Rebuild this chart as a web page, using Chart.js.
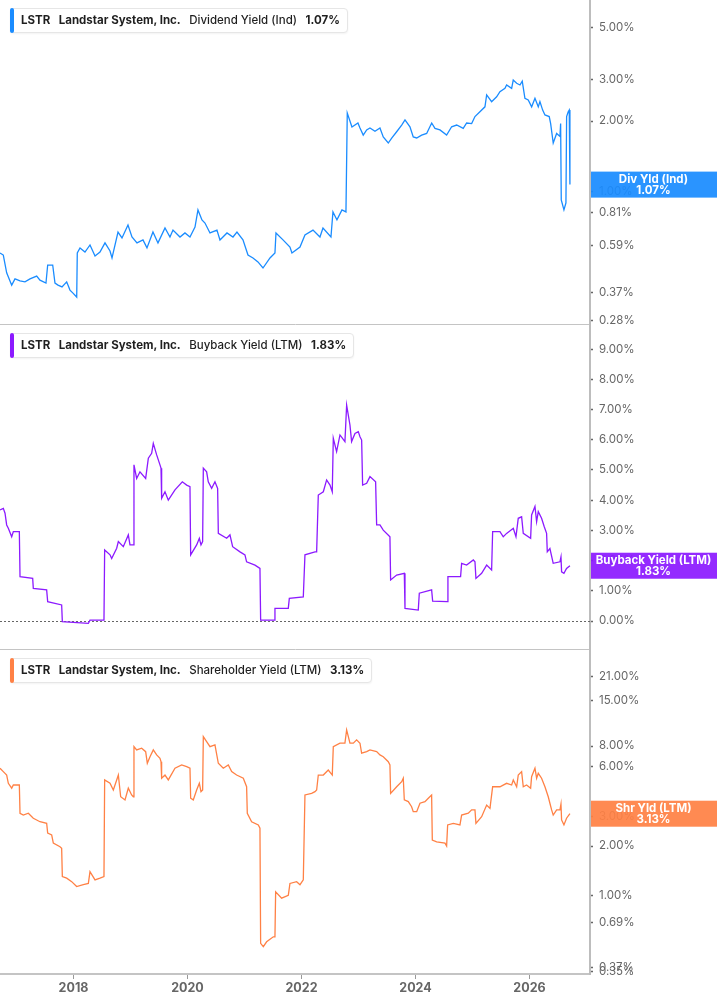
<!DOCTYPE html>
<html>
<head>
<meta charset="utf-8">
<script src="https://cdn.jsdelivr.net/npm/chart.js@4.4.1/dist/chart.umd.min.js"></script>
<style>
  body { margin: 0; background: #fff; font-family: Inter, "Noto Sans", sans-serif; }
  #wrap { position: relative; width: 717px; height: 1005px; overflow: hidden; }
  canvas { position: absolute; left: 0; }
  .legend { position: absolute; left: 10px; height: 23px; line-height: 23px; padding: 0 7px 0 10px;
            border: 1px solid #e6e6e6; border-radius: 4px; background: #fff; font-size: 11.5px;
            color: #1f1f1f; white-space: nowrap; box-shadow: 0 1px 2px rgba(0,0,0,0.05); }
  .legend .bar { position: absolute; left: -1px; top: -1px; bottom: -1px; width: 4px; border-radius: 2px; }
  .legend .t { margin-right: 8.5px; }
  .legend .b { font-weight: 700; }
  .legend .n { font-weight: 500; }
</style>
</head>
<body>
<div id="wrap">
  <canvas id="c1" width="717" height="325" style="top:0px"></canvas>
  <canvas id="c2" width="717" height="325" style="top:325px"></canvas>
  <canvas id="c3" width="717" height="355" style="top:650px"></canvas>
</div>
<script>
// ---- data ----
const ticker = 'LSTR';
const company = 'Landstar System, Inc.';
const seriesNames = ['Dividend Yield (Ind)', 'Buyback Yield (LTM)', 'Shareholder Yield (LTM)'];
const badgeNames = ['Div Yld (Ind)', 'Buyback Yield (LTM)', 'Shr Yld (LTM)'];
const seriesColors = ['#1a8cff', '#8c1aff', '#ff8145'];

const yearTicks = [2018, 2020, 2022, 2024, 2026];
const divTicks = [0.28, 0.37, 0.59, 0.81, 1, 2, 3, 5];
const bbTicks = [0, 1, 2, 3, 4, 5, 6, 7, 8, 9];
const shyTicks = [0.35, 0.37, 0.69, 1, 2, 3, 6, 8, 15, 21];

// dates as decimal years
const divDates = [2016.725, 2016.783, 2016.842, 2016.930, 2016.988, 2017.076, 2017.163, 2017.251, 2017.368, 2017.426,
  2017.531, 2017.561, 2017.649, 2017.689, 2017.742, 2017.812, 2017.894, 2017.952, 2018.005, 2018.070,
  2018.080, 2018.128, 2018.215, 2018.303, 2018.391, 2018.478, 2018.566, 2018.654, 2018.689, 2018.794,
  2018.864, 2018.969, 2019.039, 2019.127, 2019.232, 2019.302, 2019.407, 2019.495, 2019.618, 2019.705,
  2019.758, 2019.881, 2019.968, 2020.056, 2020.144, 2020.196, 2020.266, 2020.319, 2020.407, 2020.529,
  2020.582, 2020.705, 2020.810, 2020.880, 2020.985, 2021.073, 2021.161, 2021.248, 2021.336, 2021.459,
  2021.546, 2021.564, 2021.687, 2021.809, 2021.844, 2021.985, 2022.072, 2022.213, 2022.335, 2022.388,
  2022.528, 2022.563, 2022.633, 2022.721, 2022.791, 2022.814, 2022.896, 2023.001, 2023.037, 2023.094,
  2023.154, 2023.212, 2023.300, 2023.387, 2023.445, 2023.533, 2023.593, 2023.680, 2023.768, 2023.826,
  2023.913, 2023.971, 2024.031, 2024.118, 2024.206, 2024.294, 2024.352, 2024.439, 2024.556, 2024.644,
  2024.732, 2024.847, 2024.907, 2024.995, 2025.053, 2025.140, 2025.228, 2025.258, 2025.345, 2025.433,
  2025.491, 2025.579, 2025.608, 2025.696, 2025.724, 2025.784, 2025.842, 2025.882, 2025.929, 2025.987,
  2026.047, 2026.105, 2026.163, 2026.192, 2026.240, 2026.280, 2026.355, 2026.380, 2026.425, 2026.485,
  2026.543, 2026.555, 2026.566, 2026.613, 2026.648, 2026.660, 2026.688, 2026.706, 2026.718];
const divValues = [0.546, 0.535, 0.449, 0.398, 0.423, 0.415, 0.411, 0.423, 0.435, 0.418,
  0.406, 0.485, 0.485, 0.406, 0.398, 0.391, 0.411, 0.379, 0.368, 0.354,
  0.546, 0.574, 0.551, 0.591, 0.530, 0.551, 0.603, 0.557, 0.520, 0.671,
  0.633, 0.719, 0.639, 0.603, 0.621, 0.574, 0.671, 0.603, 0.698, 0.639,
  0.684, 0.639, 0.665, 0.639, 0.705, 0.834, 0.756, 0.733, 0.665, 0.684,
  0.621, 0.665, 0.639, 0.671, 0.621, 0.535, 0.520, 0.500, 0.471, 0.520,
  0.546, 0.665, 0.621, 0.579, 0.546, 0.579, 0.652, 0.684, 0.639, 0.698,
  0.639, 0.818, 0.756, 0.834, 0.818, 2.165, 1.887, 1.962, 1.867, 1.742,
  1.832, 1.867, 1.81, 1.867, 1.710, 1.611, 1.69, 1.80, 1.923, 2.022,
  1.89, 1.710, 1.693, 1.742, 1.77, 1.962, 1.86, 1.832, 1.742, 1.89,
  1.923, 1.86, 1.962, 1.95, 2.09, 2.19, 2.30, 2.585, 2.42, 2.54,
  2.67, 2.76, 2.852, 2.76, 2.994, 2.90, 2.852, 2.964, 2.50, 2.46,
  2.30, 2.50, 2.30, 2.42, 2.227, 2.123, 2.09, 1.95, 1.61, 1.77,
  1.72, 1.95, 0.920, 0.834, 0.893, 2.09, 2.19, 2.227, 1.07];

const bbDates = [2016.725, 2016.783, 2016.813, 2016.842, 2016.871, 2016.930, 2016.959, 2017.064, 2017.076, 2017.298,
  2017.309, 2017.543, 2017.561, 2017.806, 2017.818, 2018.274, 2018.303, 2018.548, 2018.560, 2018.654,
  2018.683, 2018.771, 2018.800, 2018.887, 2018.975, 2019.004, 2019.063, 2019.074, 2019.121, 2019.179,
  2019.279, 2019.326, 2019.384, 2019.413, 2019.472, 2019.530, 2019.548, 2019.559, 2019.618, 2019.676,
  2019.793, 2019.922, 2019.998, 2020.056, 2020.068, 2020.173, 2020.220, 2020.249, 2020.278, 2020.290,
  2020.348, 2020.377, 2020.436, 2020.494, 2020.541, 2020.553, 2020.699, 2020.757, 2020.804, 2020.933,
  2021.020, 2021.049, 2021.196, 2021.283, 2021.295, 2021.535, 2021.546, 2021.780, 2021.798, 2022.043,
  2022.072, 2022.248, 2022.277, 2022.306, 2022.394, 2022.452, 2022.511, 2022.551, 2022.569, 2022.627,
  2022.686, 2022.773, 2022.803, 2022.861, 2022.890, 2022.949, 2023.007, 2023.037, 2023.066, 2023.083,
  2023.154, 2023.212, 2023.311, 2023.329, 2023.387, 2023.445, 2023.562, 2023.574, 2023.680, 2023.814,
  2023.826, 2024.059, 2024.077, 2024.293, 2024.311, 2024.568, 2024.579, 2024.801, 2024.819, 2024.907,
  2025.024, 2025.053, 2025.070, 2025.170, 2025.258, 2025.345, 2025.363, 2025.491, 2025.549, 2025.608,
  2025.725, 2025.772, 2025.812, 2025.871, 2025.900, 2026.029, 2026.046, 2026.105, 2026.134, 2026.163,
  2026.221, 2026.268, 2026.309, 2026.321, 2026.367, 2026.425, 2026.543, 2026.561, 2026.572, 2026.613,
  2026.659, 2026.718];
const bbValues = [3.68, 3.73, 3.57, 3.18, 3.07, 2.79, 2.96, 2.96, 1.47, 1.41,
  1.08, 1.03, 0.64, 0.53, -0.02, -0.08, 0.03, 0.03, 2.35, 2.19,
  2.07, 2.41, 2.63, 2.46, 2.85, 2.52, 2.52, 5.17, 4.72, 4.94,
  4.72, 5.39, 5.55, 5.88, 5.50, 5.17, 5.06, 4.06, 4.28, 4.00,
  4.34, 4.61, 4.50, 4.45, 2.19, 2.52, 2.74, 2.52, 2.63, 5.06,
  4.94, 4.61, 4.39, 4.61, 4.39, 2.90, 2.74, 2.85, 2.46, 2.29,
  2.19, 1.96, 1.85, 1.74, 0.03, 0.03, 0.42, 0.42, 0.75, 0.80,
  2.19, 2.29, 2.29, 4.17, 4.28, 4.67, 4.50, 4.28, 6.05, 5.61,
  6.16, 5.94, 7.15, 6.49, 5.94, 6.21, 6.27, 6.10, 5.99, 4.50,
  4.56, 4.78, 4.61, 3.18, 3.18, 3.01, 2.79, 1.36, 1.52, 1.58,
  0.42, 0.36, 0.92, 1.03, 0.66, 0.64, 1.47, 1.47, 1.91, 1.85,
  2.02, 1.96, 1.41, 1.58, 1.85, 1.69, 2.96, 2.96, 2.79, 2.90,
  3.07, 2.79, 3.40, 3.45, 2.90, 2.74, 3.51, 3.79, 3.29, 3.62,
  3.40, 3.12, 2.90, 2.29, 2.40, 1.91, 1.96, 2.12, 1.63, 1.58,
  1.74, 1.83];

const shyDates = [2016.725, 2016.783, 2016.842, 2016.871, 2016.930, 2016.959, 2017.064, 2017.076, 2017.134, 2017.222,
  2017.309, 2017.368, 2017.426, 2017.543, 2017.561, 2017.631, 2017.660, 2017.777, 2017.806, 2017.818,
  2017.894, 2017.982, 2018.069, 2018.186, 2018.274, 2018.303, 2018.391, 2018.478, 2018.548, 2018.560,
  2018.654, 2018.712, 2018.771, 2018.800, 2018.841, 2018.917, 2018.975, 2019.033, 2019.063, 2019.074,
  2019.121, 2019.209, 2019.279, 2019.308, 2019.355, 2019.413, 2019.472, 2019.530, 2019.548, 2019.559,
  2019.618, 2019.676, 2019.793, 2019.910, 2019.998, 2020.056, 2020.068, 2020.114, 2020.173, 2020.220,
  2020.249, 2020.278, 2020.290, 2020.348, 2020.407, 2020.494, 2020.553, 2020.640, 2020.728, 2020.787,
  2020.874, 2020.991, 2021.049, 2021.061, 2021.137, 2021.254, 2021.283, 2021.295, 2021.342, 2021.400,
  2021.517, 2021.546, 2021.558, 2021.663, 2021.780, 2021.809, 2021.926, 2021.985, 2022.043, 2022.072,
  2022.189, 2022.248, 2022.277, 2022.306, 2022.394, 2022.481, 2022.551, 2022.569, 2022.686, 2022.773,
  2022.803, 2022.861, 2022.920, 2022.978, 2023.037, 2023.066, 2023.154, 2023.212, 2023.329, 2023.387,
  2023.445, 2023.533, 2023.562, 2023.574, 2023.680, 2023.768, 2023.796, 2023.814, 2023.884, 2023.942,
  2023.971, 2024.031, 2024.089, 2024.176, 2024.235, 2024.293, 2024.305, 2024.381, 2024.527, 2024.556,
  2024.574, 2024.673, 2024.790, 2024.819, 2024.936, 2024.995, 2025.053, 2025.070, 2025.170, 2025.258,
  2025.316, 2025.363, 2025.491, 2025.608, 2025.696, 2025.725, 2025.784, 2025.812, 2025.871, 2025.900,
  2025.958, 2026.029, 2026.046, 2026.105, 2026.134, 2026.163, 2026.221, 2026.280, 2026.338, 2026.367,
  2026.397, 2026.425, 2026.485, 2026.543, 2026.561, 2026.572, 2026.613, 2026.659, 2026.718];
const shyValues = [5.88, 5.61, 5.35, 4.77, 4.46, 4.66, 4.66, 3.15, 3.07, 3.15,
  2.94, 2.87, 2.80, 2.74, 2.39, 2.33, 2.08, 1.98, 1.94, 1.31,
  1.28, 1.22, 1.14, 1.17, 1.19, 1.40, 1.25, 1.28, 1.31, 5.00,
  4.77, 4.35, 5.00, 5.35, 3.96, 3.79, 4.46, 4.06, 3.96, 7.93,
  7.58, 7.76, 7.40, 6.30, 6.90, 7.58, 7.07, 6.75, 6.44, 5.12,
  5.35, 5.00, 5.88, 6.15, 6.01, 5.88, 3.88, 3.79, 4.35, 4.77,
  4.25, 4.35, 9.12, 8.50, 7.93, 8.12, 6.30, 5.88, 6.15, 5.61,
  5.35, 5.12, 4.55, 3.15, 2.80, 2.68, 2.56, 0.519, 0.495, 0.53,
  0.568, 0.568, 1.06, 0.97, 1.01, 1.19, 1.22, 1.17, 1.25, 4.06,
  4.15, 4.25, 4.35, 5.35, 5.35, 5.74, 5.35, 7.93, 8.32, 8.32,
  10.0, 8.32, 8.32, 8.71, 8.32, 7.24, 7.40, 7.58, 7.40, 7.07,
  6.90, 6.44, 6.15, 4.15, 4.55, 4.88, 5.12, 3.79, 3.70, 3.45,
  3.22, 3.22, 3.62, 3.70, 3.88, 4.06, 2.17, 2.12, 2.08, 2.00,
  2.68, 2.74, 2.68, 3.07, 3.15, 3.30, 3.30, 2.74, 3.00, 3.53,
  3.37, 4.55, 4.55, 4.77, 4.66, 5.00, 4.55, 5.35, 5.61, 4.55,
  4.66, 4.46, 5.23, 5.88, 5.12, 5.48, 5.12, 4.55, 3.96, 3.62,
  3.30, 3.07, 3.30, 3.30, 3.58, 2.87, 2.68, 2.94, 3.13];

const fontFamily = 'Inter, "Noto Sans", sans-serif';
const pct = v => v.toFixed(2) + '%';

// legend boxes (top-left of each panel)
function addLegend(top, idx, lastValue) {
    const box = document.createElement('div');
    box.className = 'legend';
    box.style.top = top + 'px';
    box.innerHTML = `<span class="bar" style="background:${seriesColors[idx]}"></span>` +
        `<span class="t b">${ticker}</span><span class="t b">${company}</span>` +
        `<span class="t n">${seriesNames[idx]}</span><span class="b">${pct(lastValue)}</span>`;
    document.getElementById('wrap').appendChild(box);
}

function makeChart(canvasId, idx, dates, values, yOpts, showYears) {
    const color = seriesColors[idx];
    const lastValue = values[values.length - 1];

    // value badge on the right axis
    const badgePlugin = {
        id: 'badge' + idx,
        afterDraw(chart) {
            const { ctx, chartArea, width } = chart;
            const y = chart.scales.y.getPixelForValue(lastValue);
            ctx.save();
            ctx.globalAlpha = 0.93;
            ctx.fillStyle = color;
            ctx.fillRect(chartArea.right + 1, y - 13, width - chartArea.right, 26);
            ctx.globalAlpha = 1;
            ctx.fillStyle = '#fff';
            ctx.font = 'bold 11.5px ' + fontFamily;
            ctx.textAlign = 'center';
            ctx.textBaseline = 'middle';
            const cx = (chartArea.right + width) / 2;
            ctx.fillText(badgeNames[idx], cx, y - 5.5);
            ctx.fillText(pct(lastValue), cx, y + 6);
            ctx.restore();
        }
    };

    // dotted zero line (buyback panel)
    const zeroPlugin = {
        id: 'zero' + idx,
        beforeDatasetsDraw(chart) {
            if (!yOpts.zeroLine) return;
            const { ctx, chartArea } = chart;
            const y = Math.round(chart.scales.y.getPixelForValue(0)) + 0.5;
            ctx.save();
            ctx.strokeStyle = '#666';
            ctx.lineWidth = 1;
            ctx.setLineDash([2, 2]);
            ctx.beginPath();
            ctx.moveTo(chartArea.left, y);
            ctx.lineTo(chartArea.right, y);
            ctx.stroke();
            ctx.restore();
        }
    };

    // year labels under the last panel, placed with the x scale
    const yearPlugin = {
        id: 'years' + idx,
        afterDraw(chart) {
            if (!showYears) return;
            const { ctx, chartArea } = chart;
            const xs = chart.scales.x;
            ctx.save();
            ctx.strokeStyle = '#999';
            ctx.lineWidth = 1;
            ctx.fillStyle = '#666';
            ctx.font = 'bold 12.5px ' + fontFamily;
            ctx.textAlign = 'center';
            ctx.textBaseline = 'middle';
            yearTicks.forEach(yr => {
                const x = Math.round(xs.getPixelForValue(yr)) + 0.5;
                ctx.beginPath();
                ctx.moveTo(x, chartArea.bottom + 1);
                ctx.lineTo(x, chartArea.bottom + 5);
                ctx.stroke();
                ctx.fillText(String(yr), x, chartArea.bottom + 14);
            });
            ctx.restore();
        }
    };

    return new Chart(document.getElementById(canvasId), {
        type: 'line',
        data: {
            datasets: [{
                label: seriesNames[idx],
                data: dates.map((d, i) => ({ x: d, y: values[i] })),
                borderColor: color,
                borderWidth: 1.3,
                pointRadius: 0,
                tension: 0,
                fill: false,
            }]
        },
        options: {
            responsive: false,
            animation: false,
            layout: { padding: { left: 0, right: 0, top: 0, bottom: showYears ? 30 : 0 } },
            plugins: { legend: { display: false }, tooltip: { enabled: false } },
            scales: {
                x: {
                    type: 'linear',
                    min: 2016.725,
                    max: 2027.07,
                    afterBuildTicks: s => {
                        s.ticks = yearTicks.map(v => ({ value: v }));
                        s.min = 2016.725; s.max = 2027.07;
                    },
                    afterFit: s => { s.height = 1; s.paddingLeft = 0; s.paddingRight = 0; },
                    border: { color: '#c4c4c4', width: showYears ? 2 : 1 },
                    grid: { drawOnChartArea: false, drawTicks: false },
                    ticks: { display: false }
                },
                y: {
                    type: yOpts.type,
                    position: 'right',
                    min: yOpts.min,
                    max: yOpts.max,
                    // keep the exact range (the log scale rounds its own bounds otherwise)
                    afterBuildTicks: s => {
                        s.ticks = yOpts.ticks.map(v => ({ value: v }));
                        s.min = yOpts.min; s.max = yOpts.max;
                    },
                    afterFit: s => { s.width = 127; s.paddingTop = 0; s.paddingBottom = 0; },
                    border: { color: '#bdbdbd', width: 2 },
                    grid: { drawOnChartArea: false, drawTicks: true, tickLength: 3, tickColor: '#666', tickWidth: 1.5 },
                    ticks: {
                        autoSkip: false,
                        padding: 6,
                        color: '#666',
                        font: { family: fontFamily, size: 11.5 },
                        callback: v => pct(v)
                    }
                }
            }
        },
        plugins: [zeroPlugin, badgePlugin, yearPlugin]
    });
}

makeChart('c1', 0, divDates, divValues, { type: 'logarithmic', min: 0.2715, max: 6.58, ticks: divTicks }, false);
makeChart('c2', 1, bbDates, bbValues, { type: 'linear', min: -0.927, max: 9.80, ticks: bbTicks, zeroLine: true }, false);
makeChart('c3', 2, shyDates, shyValues, { type: 'logarithmic', min: 0.339, max: 30.3, ticks: shyTicks }, true);

addLegend(8, 0, divValues[divValues.length - 1]);
addLegend(333, 1, bbValues[bbValues.length - 1]);
addLegend(658, 2, shyValues[shyValues.length - 1]);
</script>
</body>
</html>
